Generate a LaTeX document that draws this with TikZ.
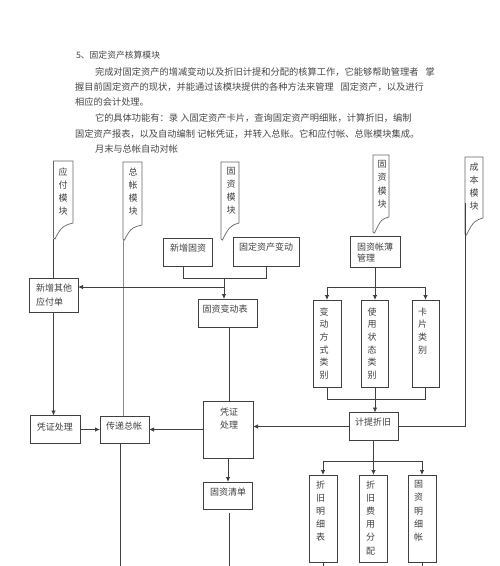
\documentclass[tikz,border=0pt]{standalone}
\usepackage{fontspec}
\newfontfamily\cjk{Noto Sans CJK SC}
\usetikzlibrary{arrows.meta}
\newcommand\modtag[5]{\draw[tagline] (#1,#3) -- (#2,#3) -- (#2,#4) .. controls (#2-7,#4+2) and (#1+8,#5-14) .. (#1+1.5,#5) -- (#1,#5-1) -- cycle;}
\begin{document}
\begin{tikzpicture}[x=1pt,y=-1pt,
  every node/.style={inner sep=0pt,outer sep=0pt},
  ptxt/.style={font=\cjk\fontsize{9.25}{13}\selectfont,text=black!72,anchor=west},
  btxt/.style={font=\cjk\fontsize{9}{13}\selectfont,text=black!75},
  vtxt/.style={font=\cjk\fontsize{9}{#1}\selectfont,text=black!75,align=center,anchor=north},
  box/.style={draw=black!75,line width=0.9pt},
  ln/.style={draw=black!75,line width=0.8pt},
  arr/.style={ln,-{Latex[length=5pt,width=4.5pt]}},
  tagline/.style={draw=black!60,line width=0.7pt,fill=white}]
\fill[white] (0,0) rectangle (500,566);
\useasboundingbox (0,0) rectangle (500,566);

% paragraph
\node[ptxt,font=\cjk\fontsize{8.8}{11}\selectfont] (p1) at (76,55) {5、固定资产核算模块};
\node[ptxt] (p2) at (95,72) {完成对固定资产的增减变动以及折旧计提和分配的核算工作，它能够帮助管理者};
\node[ptxt] (p2b) at (425.5,72) {掌};
\node[ptxt] (p3) at (75,87) {握目前固定资产的现状，并能通过该模块提供的各种方法来管理};
\node[ptxt] (p3b) at (340.5,87) {固定资产，以及进行};
\node[ptxt] (p4) at (75,102) {相应的会计处理。};
\node[ptxt] (p5) at (95,118) {它的具体功能有：录 入固定资产卡片，查询固定资产明细账，计算折旧，编制};
\node[ptxt] (p6) at (75,134) {固定资产报表，以及自动编制 记帐凭证，并转入总账。它和应付帐、总账模块集成。};
\node[ptxt] (p7) at (95,149) {月末与总帐自动对帐};

% module tags
\modtag{53.5}{73}{161}{223}{239}
\modtag{123}{142}{162}{225}{240}
\modtag{221}{239}{162}{223}{240}
\modtag{373}{389}{155}{217}{233}
\modtag{465}{483}{157}{218}{235}
\coordinate (yf) at (53.5,239);
\coordinate (zz) at (123,240);
\coordinate (cb) at (465,203);
\node[vtxt=13] (t1) at (63,167.5) {应\\付\\模\\块};
\node[vtxt=13] (t2) at (133,167.5) {总\\帐\\模\\块};
\node[vtxt=13] (t3) at (231,167.5) {固\\资\\模\\块};
\node[vtxt=13.3] (t4) at (382,160.5) {固\\资\\模\\块};
\node[vtxt=13] (t5) at (474,162.5) {成\\本\\模\\块};

% boxes
\node[box,minimum width=49pt,minimum height=28pt] (xzgz) at (187.5,252) {};
\node[btxt] at (188,248) {新增固资};
\node[box,minimum width=66pt,minimum height=29pt] (gdzcbd) at (266,251.5) {};
\node[btxt] at (266,247) {固定资产变动};
\node[box,minimum width=59pt,minimum height=28pt] (gzbdb) at (227.5,313) {};
\node[btxt] at (225,309) {固资变动表};
\node[box,minimum width=49pt,minimum height=34pt] (xzqt) at (53.5,295) {};
\node[btxt,align=left,anchor=north west,font=\cjk\fontsize{9}{14}\selectfont] at (36,283.5) {新增其他\\应付单};
\node[box,minimum width=50pt,minimum height=28pt] (pzclL) at (55,429.5) {};
\node[btxt] at (55,427) {凭证处理};
\node[box,minimum width=49pt,minimum height=27pt] (cdzz) at (124.5,429.5) {};
\node[btxt] at (124,426) {传递总帐};
\node[box,minimum width=50pt,minimum height=57pt] (pzclM) at (228,429.5) {};
\node[btxt,align=center,anchor=north] at (229,407.5) {凭证\\处理};
\node[box,minimum width=49pt,minimum height=27pt] (gzqd) at (227.5,495.5) {};
\node[btxt] at (228,492) {固资清单};
\node[box,minimum width=50pt,minimum height=31pt] (gzzb) at (375,251.5) {};
\node[btxt,align=left,anchor=north west,font=\cjk\fontsize{9}{11.5}\selectfont] at (357,242.5) {固资帐薄\\管理};
\node[box,minimum width=28pt,minimum height=87pt] (bdfs) at (327,343.5) {};
\node[vtxt=12.7] at (324,307.5) {变\\动\\方\\式\\类\\别};
\node[box,minimum width=27pt,minimum height=87pt] (syzt) at (375,343.5) {};
\node[vtxt=12.7] at (372,307.5) {使\\用\\状\\态\\类\\别};
\node[box,minimum width=27pt,minimum height=87pt] (kplb) at (425.5,343.5) {};
\node[vtxt=12.7] at (422.5,307.5) {卡\\片\\类\\别};
\node[box,minimum width=49pt,minimum height=28pt] (jtzj) at (373.5,426.5) {};
\node[btxt] at (373,422.5) {计提折旧};
\node[box,minimum width=28pt,minimum height=87pt] (zjmx) at (323,518.5) {};
\node[vtxt=13.2] at (320.5,480.5) {折\\旧\\明\\细\\表};
\node[box,minimum width=28pt,minimum height=87pt] (zjfy) at (373.5,518.5) {};
\node[vtxt=13.2] at (370.5,480.5) {折\\旧\\费\\用\\分\\配};
\node[box,minimum width=28pt,minimum height=87pt] (gzmx) at (422,518.5) {};
\node[vtxt=13.2] at (418.5,480.5) {固\\资\\明\\细\\帐};

% helper rows
\coordinate (r278) at (0,278);
\coordinate (r287) at (0,287);
\coordinate (r399) at (0,399);
\coordinate (r461) at (0,461);
\coordinate (bot) at (0,566);
\coordinate (j3) at (224,278);
\coordinate (j4) at (224,287);

% left connectors
\draw[ln] (yf) -- (yf |- xzqt.north);
\draw[ln,draw=black!45] (zz) -- (zz |- cdzz.north);
\draw[ln] ([xshift=-4.5pt]xzgz.south) -- ([xshift=-4.5pt]xzgz.south |- r278) -- (gdzcbd.south |- r278) -- (gdzcbd.south);
\draw[arr] (j3) -- (j3 |- gzbdb.north);
\draw[arr] (j4) -- (xzqt.east |- j4);
\draw[ln] ([xshift=1.5pt]gzbdb.south) -- ([xshift=1.5pt]gzbdb.south |- pzclM.north);
\draw[arr] (xzqt.south) -- (xzqt.south |- pzclL.north);
\draw[arr] (pzclL.east) -- (cdzz.west);
\draw[arr] (pzclM.west) -- (cdzz.east);
\draw[ln] ([xshift=-4.5pt]cdzz.south) -- ([xshift=-4.5pt]cdzz.south |- bot);
\draw[arr] (pzclM.south) -- (pzclM.south |- gzqd.north);
\draw[ln] ([xshift=2pt,yshift=-4pt]gzqd.south) -- ([xshift=2pt]gzqd.south |- bot);

% right connectors
\draw[arr] (gzzb.south) -- (syzt.north);
\draw[ln] (bdfs.north |- r287) -- (kplb.north |- r287);
\draw[arr] (bdfs.north |- r287) -- (bdfs.north);
\draw[arr] (kplb.north |- r287) -- (kplb.north);
\draw[ln] (bdfs.south) -- (bdfs.south |- r399) -- (kplb.south |- r399) -- (kplb.south);
\draw[arr] (syzt.south) -- (syzt.south |- jtzj.north);
\draw[arr] (jtzj.west) -- (jtzj.west -| pzclM.east);
\draw[ln] (cb) -- (cb |- jtzj.east) -- (jtzj.east);
\draw[ln] (jtzj.south) -- (jtzj.south |- r461);
\draw[ln] (zjmx.north |- r461) -- (gzmx.north |- r461);
\draw[arr] (zjmx.north |- r461) -- (zjmx.north);
\draw[arr] (zjfy.north |- r461) -- (zjfy.north);
\draw[arr] (gzmx.north |- r461) -- (gzmx.north);
\draw[ln] (zjmx.south) -- (zjmx.south |- bot);
\draw[ln] (gzmx.south) -- (gzmx.south |- bot);
\end{tikzpicture}
\end{document}
